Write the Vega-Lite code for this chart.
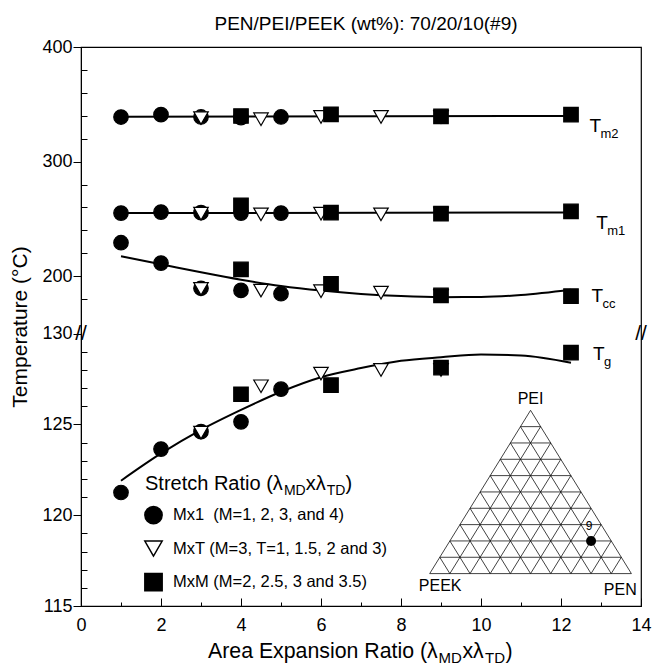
{
"$schema": "https://vega.github.io/schema/vega-lite/v6.json",
"width": 560,
"height": 559,
"autosize": "none",
"padding": {"left": 81, "top": 47, "right": 11, "bottom": 59},
"title": {"text": "PEN/PEI/PEEK (wt%): 70/20/10(#9)", "fontSize": 19, "fontWeight": "normal", "color": "black", "anchor": "middle", "offset": 4, "dx": 5},
"config": {
  "font": "Liberation Sans",
  "view": {"stroke": "black", "strokeWidth": 1.2},
  "mark": {"color": "black"},
  "axis": {"domainColor": "black", "tickColor": "black", "labelColor": "black", "titleColor": "black", "titleFontWeight": "normal", "grid": false, "labelFont": "Liberation Sans", "titleFont": "Liberation Sans"}
},
"datasets": {
  "pts": [
    {"s": "Mx1", "x": 1, "y": 338.9}, {"s": "Mx1", "x": 2, "y": 341.0}, {"s": "Mx1", "x": 3, "y": 339.0}, {"s": "Mx1", "x": 4, "y": 338.4}, {"s": "Mx1", "x": 5, "y": 339.0},
    {"s": "Mx1", "x": 1, "y": 255.1}, {"s": "Mx1", "x": 2, "y": 256.0}, {"s": "Mx1", "x": 3, "y": 255.5}, {"s": "Mx1", "x": 4, "y": 255.1}, {"s": "Mx1", "x": 5, "y": 255.1},
    {"s": "Mx1", "x": 1, "y": 229.3}, {"s": "Mx1", "x": 2, "y": 211.5}, {"s": "Mx1", "x": 3, "y": 189.5}, {"s": "Mx1", "x": 4, "y": 187.7}, {"s": "Mx1", "x": 5, "y": 184.8},
    {"s": "Mx1", "x": 1, "y": 121.25}, {"s": "Mx1", "x": 2, "y": 123.64}, {"s": "Mx1", "x": 3, "y": 124.6}, {"s": "Mx1", "x": 4, "y": 125.14}, {"s": "Mx1", "x": 5, "y": 126.94},
    {"s": "MxT", "x": 3, "y": 338.0}, {"s": "MxT", "x": 4.5, "y": 337.0}, {"s": "MxT", "x": 6, "y": 339.0}, {"s": "MxT", "x": 7.5, "y": 339.0}, {"s": "MxT", "x": 9, "y": 339.0},
    {"s": "MxT", "x": 3, "y": 254.6}, {"s": "MxT", "x": 4.5, "y": 254.0}, {"s": "MxT", "x": 6, "y": 254.6}, {"s": "MxT", "x": 7.5, "y": 254.0}, {"s": "MxT", "x": 9, "y": 254.6},
    {"s": "MxT", "x": 3, "y": 189.0}, {"s": "MxT", "x": 4.5, "y": 187.5}, {"s": "MxT", "x": 6, "y": 187.0}, {"s": "MxT", "x": 7.5, "y": 185.7}, {"s": "MxT", "x": 9, "y": 183.0},
    {"s": "MxT", "x": 3, "y": 124.55}, {"s": "MxT", "x": 4.5, "y": 127.1}, {"s": "MxT", "x": 6, "y": 127.8}, {"s": "MxT", "x": 7.5, "y": 128.0}, {"s": "MxT", "x": 9, "y": 128.0},
    {"s": "MxM", "x": 4, "y": 339.8}, {"s": "MxM", "x": 6.25, "y": 341.3}, {"s": "MxM", "x": 9, "y": 339.5}, {"s": "MxM", "x": 12.25, "y": 341.0},
    {"s": "MxM", "x": 4, "y": 261.9}, {"s": "MxM", "x": 6.25, "y": 255.5}, {"s": "MxM", "x": 9, "y": 254.6}, {"s": "MxM", "x": 12.25, "y": 256.6},
    {"s": "MxM", "x": 4, "y": 206.0}, {"s": "MxM", "x": 6.25, "y": 193.5}, {"s": "MxM", "x": 9, "y": 183.3}, {"s": "MxM", "x": 12.25, "y": 182.7},
    {"s": "MxM", "x": 4, "y": 126.66}, {"s": "MxM", "x": 6.25, "y": 127.16}, {"s": "MxM", "x": 9, "y": 128.13}, {"s": "MxM", "x": 12.25, "y": 128.95}
  ],
  "lines": [
    {"g": "Tm2", "x": 1, "y": 339.2}, {"g": "Tm2", "x": 12.25, "y": 339.9},
    {"g": "Tm1", "x": 1, "y": 255.1}, {"g": "Tm1", "x": 12.25, "y": 255.6},
    {"g": "Tcc", "x": 1, "y": 217.4}, {"g": "Tcc", "x": 2, "y": 210.5}, {"g": "Tcc", "x": 3, "y": 203.5}, {"g": "Tcc", "x": 4, "y": 197.0}, {"g": "Tcc", "x": 5, "y": 191.5}, {"g": "Tcc", "x": 6, "y": 187.5}, {"g": "Tcc", "x": 7, "y": 184.6}, {"g": "Tcc", "x": 8, "y": 182.7}, {"g": "Tcc", "x": 9, "y": 181.8}, {"g": "Tcc", "x": 10, "y": 181.9}, {"g": "Tcc", "x": 11, "y": 183.6}, {"g": "Tcc", "x": 12.25, "y": 188.2},
    {"g": "Tg", "x": 1, "y": 121.9}, {"g": "Tg", "x": 2, "y": 123.4}, {"g": "Tg", "x": 3, "y": 124.7}, {"g": "Tg", "x": 4, "y": 125.8}, {"g": "Tg", "x": 5, "y": 126.8}, {"g": "Tg", "x": 6, "y": 127.6}, {"g": "Tg", "x": 7, "y": 128.1}, {"g": "Tg", "x": 8, "y": 128.5}, {"g": "Tg", "x": 9, "y": 128.7}, {"g": "Tg", "x": 10, "y": 128.85}, {"g": "Tg", "x": 11, "y": 128.8}, {"g": "Tg", "x": 12.25, "y": 128.4}
  ],
  "tlab": [
    {"x": 12.71, "y": 325.8, "sub": "m2"},
    {"x": 12.88, "y": 241.5, "sub": "m1"},
    {"x": 12.76, "y": 177.5, "sub": "cc"},
    {"x": 12.8, "y": 128.53, "sub": "g"}
  ],
  "grid": [
    {"tx": 0, "ty": 0, "tx2": 1, "ty2": 0},
    {"tx": 0, "ty": 0, "tx2": 0.5, "ty2": 1},
    {"tx": 1, "ty": 0, "tx2": 0.5, "ty2": 1},
    {"tx": 0.05, "ty": 0.1, "tx2": 0.95, "ty2": 0.1},
    {"tx": 0.1, "ty": 0.2, "tx2": 0.9, "ty2": 0.2},
    {"tx": 0.15, "ty": 0.3, "tx2": 0.85, "ty2": 0.3},
    {"tx": 0.2, "ty": 0.4, "tx2": 0.8, "ty2": 0.4},
    {"tx": 0.25, "ty": 0.5, "tx2": 0.75, "ty2": 0.5},
    {"tx": 0.3, "ty": 0.6, "tx2": 0.7, "ty2": 0.6},
    {"tx": 0.35, "ty": 0.7, "tx2": 0.65, "ty2": 0.7},
    {"tx": 0.4, "ty": 0.8, "tx2": 0.6, "ty2": 0.8},
    {"tx": 0.45, "ty": 0.9, "tx2": 0.55, "ty2": 0.9},
    {"tx": 0.1, "ty": 0, "tx2": 0.55, "ty2": 0.9},
    {"tx": 0.2, "ty": 0, "tx2": 0.6, "ty2": 0.8},
    {"tx": 0.3, "ty": 0, "tx2": 0.65, "ty2": 0.7},
    {"tx": 0.4, "ty": 0, "tx2": 0.7, "ty2": 0.6},
    {"tx": 0.5, "ty": 0, "tx2": 0.75, "ty2": 0.5},
    {"tx": 0.6, "ty": 0, "tx2": 0.8, "ty2": 0.4},
    {"tx": 0.7, "ty": 0, "tx2": 0.85, "ty2": 0.3},
    {"tx": 0.8, "ty": 0, "tx2": 0.9, "ty2": 0.2},
    {"tx": 0.9, "ty": 0, "tx2": 0.95, "ty2": 0.1},
    {"tx": 0.9, "ty": 0, "tx2": 0.45, "ty2": 0.9},
    {"tx": 0.8, "ty": 0, "tx2": 0.4, "ty2": 0.8},
    {"tx": 0.7, "ty": 0, "tx2": 0.35, "ty2": 0.7},
    {"tx": 0.6, "ty": 0, "tx2": 0.3, "ty2": 0.6},
    {"tx": 0.5, "ty": 0, "tx2": 0.25, "ty2": 0.5},
    {"tx": 0.4, "ty": 0, "tx2": 0.2, "ty2": 0.4},
    {"tx": 0.3, "ty": 0, "tx2": 0.15, "ty2": 0.3},
    {"tx": 0.2, "ty": 0, "tx2": 0.1, "ty2": 0.2},
    {"tx": 0.1, "ty": 0, "tx2": 0.05, "ty2": 0.1}
  ],
  "tnames": [
    {"tx": 0.5, "ty": 1.067, "name": "PEI"},
    {"tx": 0.052, "ty": -0.078, "name": "PEEK"},
    {"tx": 0.945, "ty": -0.102, "name": "PEN"}
  ],
  "tpoint": [
    {"tx": 0.8, "ty": 0.2, "label": "9", "lx": 0.79, "ly": 0.29}
  ]
},
"layer": [
  {
    "encoding": {
      "x": {"field": "x", "type": "quantitative",
        "scale": {"domain": [0, 14], "nice": false, "zero": false},
        "axis": {"title": null, "values": [0,1,2,3,4,5,6,7,8,9,10,11,12,13,14],
          "labelExpr": "datum.value % 2 == 0 ? datum.label : ''",
          "tickSize": {"condition": {"test": "datum.value % 2 == 0", "value": -8}, "value": -4},
          "labelPadding": 18, "labelFontSize": 18, "labelFlush": false, "labelOverlap": false}},
      "y": {"field": "y", "type": "quantitative",
        "scale": {"domain": [115, 130, 150, 400], "range": [559, 286.6, 286.6, 0], "nice": false, "zero": false},
        "axis": {"title": "Temperature (°C)", "titleFontSize": 21, "titlePadding": 11,
          "values": [115,116,117,118,119,120,121,122,123,124,125,126,127,128,129,130,180,200,220,240,260,280,300,320,340,360,380,400],
          "labelExpr": "(datum.value % 100 == 0 || (datum.value <= 130 && datum.value % 5 == 0)) ? datum.label : ''",
          "tickSize": {"condition": {"test": "datum.value % 100 == 0 || (datum.value <= 130 && datum.value % 5 == 0)", "value": 8}, "value": -6},
          "labelPadding": 1, "labelFontSize": 18, "labelOverlap": false}}
    },
    "layer": [
      {"data": {"name": "lines"}, "mark": {"type": "line", "color": "black", "strokeWidth": 2, "interpolate": "monotone"}, "encoding": {"detail": {"field": "g"}}},
      {"data": {"name": "pts"},
       "mark": {"type": "point", "filled": true, "stroke": "black", "strokeWidth": 1.2, "opacity": 1, "size": 210},
       "encoding": {
         "shape": {"field": "s", "type": "nominal", "scale": {"domain": ["Mx1", "MxT", "MxM"], "range": ["circle", "triangle-down", "square"]},
           "legend": {"orient": "none", "legendX": 63, "legendY": 458.6, "title": null, "symbolSize": 300, "symbolOpacity": 1, "labelFontSize": 16.5, "labelOffset": 10, "rowPadding": 10.5, "labelLimit": 0, "padding": 0, "labelColor": "black",
             "encode": {"symbols": {"update": {"stroke": {"value": "black"}, "strokeWidth": {"value": 1.2}, "opacity": {"value": 1}}}},
             "labelExpr": "datum.label == 'Mx1' ? 'Mx1\u00a0 (M=1, 2, 3, and 4)' : datum.label == 'MxT' ? 'MxT (M=3, T=1, 1.5, 2 and 3)' : 'MxM (M=2, 2.5, 3 and 3.5)'"}},
         "fill": {"field": "s", "type": "nominal", "scale": {"domain": ["Mx1", "MxT", "MxM"], "range": ["black", "white", "black"]},
           "legend": {"orient": "none", "legendX": 63, "legendY": 458.6, "title": null, "symbolSize": 300, "symbolOpacity": 1, "labelFontSize": 16.5, "labelOffset": 10, "rowPadding": 10.5, "labelLimit": 0, "padding": 0, "labelColor": "black",
             "encode": {"symbols": {"update": {"stroke": {"value": "black"}, "strokeWidth": {"value": 1.2}, "opacity": {"value": 1}}}},
             "labelExpr": "datum.label == 'Mx1' ? 'Mx1\u00a0 (M=1, 2, 3, and 4)' : datum.label == 'MxT' ? 'MxT (M=3, T=1, 1.5, 2 and 3)' : 'MxM (M=2, 2.5, 3 and 3.5)'"}}
       }},
      {"data": {"name": "tlab"}, "mark": {"type": "text", "text": "T", "align": "left", "baseline": "alphabetic", "fontSize": 19}},
      {"data": {"name": "tlab"}, "mark": {"type": "text", "align": "left", "baseline": "alphabetic", "fontSize": 13, "dx": 11, "dy": 6}, "encoding": {"text": {"field": "sub"}}},
      {"data": {"values": [{"x": 0, "y": 130}, {"x": 14, "y": 130}]}, "mark": {"type": "text", "text": "//", "fontSize": 21, "align": "center", "baseline": "middle"}},
      {"data": {"values": [{"x": 7, "y": 115}]}, "mark": {"type": "text", "text": "Area Expansion Ratio (λ", "align": "left", "baseline": "alphabetic", "fontSize": 21.3, "dx": -153, "dy": 52}},
      {"data": {"values": [{"x": 7, "y": 115}]}, "mark": {"type": "text", "text": "MD", "align": "left", "baseline": "alphabetic", "fontSize": 15, "dx": 77.6, "dy": 57}},
      {"data": {"values": [{"x": 7, "y": 115}]}, "mark": {"type": "text", "text": "xλ", "align": "left", "baseline": "alphabetic", "fontSize": 21.3, "dx": 101.4, "dy": 52}},
      {"data": {"values": [{"x": 7, "y": 115}]}, "mark": {"type": "text", "text": "TD", "align": "left", "baseline": "alphabetic", "fontSize": 15, "dx": 124.1, "dy": 57}},
      {"data": {"values": [{"x": 7, "y": 115}]}, "mark": {"type": "text", "text": ")", "align": "left", "baseline": "alphabetic", "fontSize": 21.3, "dx": 144.5, "dy": 52}},
      {"data": {"values": [{"x": 1.6, "y": 121.38}]}, "mark": {"type": "text", "text": "Stretch Ratio (λ", "align": "left", "baseline": "alphabetic", "fontSize": 20, "dx": 0, "dy": 0}},
      {"data": {"values": [{"x": 1.6, "y": 121.38}]}, "mark": {"type": "text", "text": "MD", "align": "left", "baseline": "alphabetic", "fontSize": 14, "dx": 138.9, "dy": 5}},
      {"data": {"values": [{"x": 1.6, "y": 121.38}]}, "mark": {"type": "text", "text": "xλ", "align": "left", "baseline": "alphabetic", "fontSize": 20, "dx": 160.7, "dy": 0}},
      {"data": {"values": [{"x": 1.6, "y": 121.38}]}, "mark": {"type": "text", "text": "TD", "align": "left", "baseline": "alphabetic", "fontSize": 14, "dx": 181.8, "dy": 5}},
      {"data": {"values": [{"x": 1.6, "y": 121.38}]}, "mark": {"type": "text", "text": ")", "align": "left", "baseline": "alphabetic", "fontSize": 20, "dx": 200.5, "dy": 0}}
    ]
  },
  {
    "encoding": {
      "x": {"field": "tx", "type": "quantitative", "scale": {"domain": [0, 1], "range": [348.7, 550.4], "nice": false, "zero": false}, "axis": null},
      "y": {"field": "ty", "type": "quantitative", "scale": {"domain": [0, 1], "range": [526.6, 363.3], "nice": false, "zero": false}, "axis": null}
    },
    "layer": [
      {"data": {"name": "grid"}, "mark": {"type": "rule", "color": "#111111", "strokeWidth": 0.8}, "encoding": {"x2": {"field": "tx2"}, "y2": {"field": "ty2"}}},
      {"data": {"name": "tpoint"}, "mark": {"type": "point", "filled": true, "color": "black", "opacity": 1, "size": 100, "shape": "circle"}},
      {"data": {"name": "tpoint"}, "mark": {"type": "text", "fontSize": 12, "align": "center", "baseline": "middle"}, "encoding": {"x": {"field": "lx", "type": "quantitative"}, "y": {"field": "ly", "type": "quantitative"}, "text": {"field": "label"}}},
      {"data": {"name": "tnames"}, "mark": {"type": "text", "fontSize": 16, "align": "center", "baseline": "middle"}, "encoding": {"text": {"field": "name"}}}
    ]
  }
],
"resolve": {"scale": {"x": "independent", "y": "independent"}}
}
